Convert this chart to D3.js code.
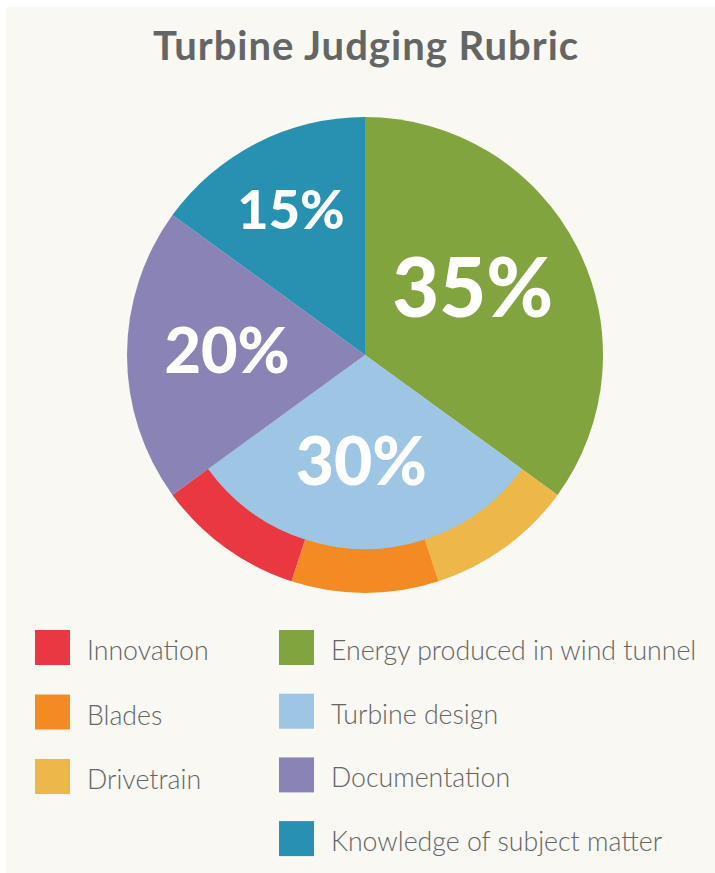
<!DOCTYPE html>
<html>
<head>
<meta charset="utf-8">
<script src="https://cdn.jsdelivr.net/npm/d3@7"></script>
<style>
  body { margin: 0; background: #ffffff; }
  svg { display: block; }
</style>
</head>
<body>
<script>
// Main rubric slices (clockwise from 12 o'clock)
const mainLabels = ["Energy produced in wind tunnel", "Turbine design", "Documentation", "Knowledge of subject matter"];
const mainValues = [35, 30, 20, 15];
const mainColors = ["#81a43f", "#9dc5e4", "#8a84b6", "#2891b1"];

// Sub-parts drawn as an outer ring inside the Turbine design slice
const subLabels = ["Drivetrain", "Blades", "Innovation"];
const subValues = [10, 10, 10];
const subColors = ["#edb749", "#f48a23", "#e93841"];

// Legend columns
const legendLeft = ["Innovation", "Blades", "Drivetrain"];
const legendRight = ["Energy produced in wind tunnel", "Turbine design", "Documentation", "Knowledge of subject matter"];

const width = 715, height = 873;
const cx = 365, cy = 355;
const R = 238, innerR = 194;

const colorOf = d3.scaleOrdinal()
    .domain(mainLabels.concat(subLabels))
    .range(mainColors.concat(subColors));

const svg = d3.select("body").append("svg")
    .attr("width", width)
    .attr("height", height);

svg.append("rect")
    .attr("x", 6).attr("y", 7)
    .attr("width", width - 6).attr("height", height - 7)
    .attr("fill", "#f9f8f3");

svg.append("text")
    .attr("x", 366).attr("y", 60)
    .attr("text-anchor", "middle")
    .attr("font-family", "Lato, 'DejaVu Sans', sans-serif")
    .attr("font-weight", 700)
    .attr("font-size", 40)
    .attr("letter-spacing", 1)
    .attr("fill", "#646565")
    .text("Turbine Judging Rubric");

const g = svg.append("g").attr("transform", `translate(${cx},${cy})`);

const pie = d3.pie().sort(null).value(d => d.value);
const mainArcs = pie(mainLabels.map((l, i) => ({ label: l, value: mainValues[i] })));

const arc = d3.arc().innerRadius(0).outerRadius(R);
g.selectAll("path.main")
    .data(mainArcs)
    .enter().append("path")
    .attr("class", "main")
    .attr("d", (d, i) => i === 1 ? d3.arc().innerRadius(0).outerRadius(innerR + 1)(d) : arc(d))
    .attr("fill", d => colorOf(d.data.label));

// outer ring for the turbine design slice
const turbine = mainArcs[1];
const subPie = d3.pie().sort(null).value(d => d.value)
    .startAngle(turbine.startAngle).endAngle(turbine.endAngle);
const subArcs = subPie(subLabels.map((l, i) => ({ label: l, value: subValues[i] })));

g.selectAll("path.sub")
    .data(subArcs)
    .enter().append("path")
    .attr("class", "sub")
    .attr("d", d3.arc().innerRadius(innerR).outerRadius(R))
    .attr("fill", d => colorOf(d.data.label));

// percent labels: radius fraction, angle nudge (deg), font size
const labelStyle = [
    { r: 0.534, da: -5, size: 81 },
    { r: 0.445, da: 2, size: 66 },
    { r: 0.58, da: 2, size: 63 },
    { r: 0.685, da: 0, size: 54 }
];

g.selectAll("text.pct")
    .data(mainArcs)
    .enter().append("text")
    .attr("class", "pct")
    .attr("transform", (d, i) => {
        const s = labelStyle[i];
        const a = (d.startAngle + d.endAngle) / 2 + s.da * Math.PI / 180;
        const r = s.r * R;
        return `translate(${r * Math.sin(a)},${-r * Math.cos(a)})`;
    })
    .attr("dy", "0.36em")
    .attr("text-anchor", "middle")
    .attr("font-family", "Lato, 'DejaVu Sans', sans-serif")
    .attr("font-weight", 900)
    .attr("font-size", (d, i) => labelStyle[i].size)
    .attr("fill", "#ffffff")
    .text(d => d.data.value + "%");

// legend
function drawLegend(items, x, y0, step) {
    const rows = svg.append("g").selectAll("g")
        .data(items)
        .enter().append("g")
        .attr("transform", (d, i) => `translate(${x},${y0 + i * step})`);
    rows.append("rect")
        .attr("width", 35).attr("height", 35)
        .attr("fill", d => colorOf(d));
    rows.append("text")
        .attr("x", 52).attr("y", 30)
        .attr("font-family", "Lato, 'DejaVu Sans', sans-serif")
        .attr("font-weight", 300)
        .attr("font-size", 26.7)
        .attr("fill", "#646565")
        .text(d => d);
}

drawLegend(legendLeft, 35, 630, 64.5);
drawLegend(legendRight, 279, 630, 63.7);
</script>
</body>
</html>
